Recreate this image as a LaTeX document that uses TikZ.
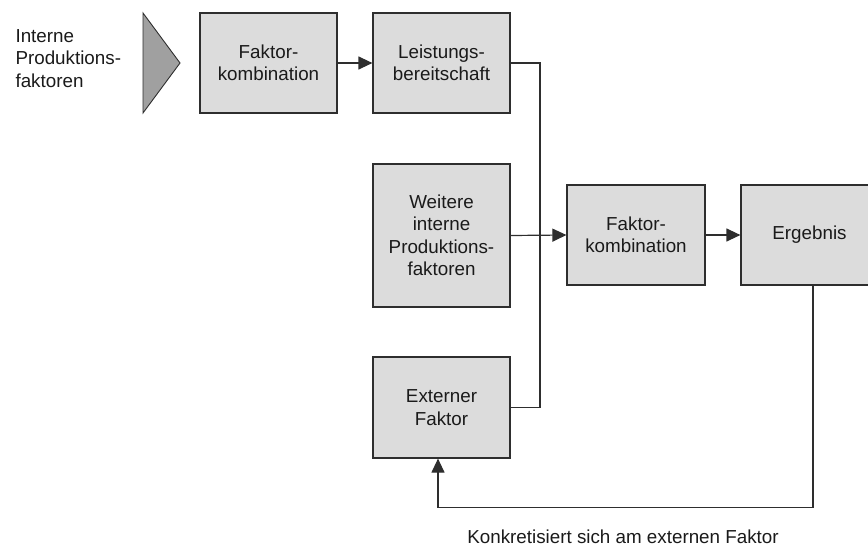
\documentclass[tikz,border=0pt]{standalone}
\usepackage{fontspec}
\setmainfont{Liberation Sans}
\usetikzlibrary{arrows.meta}
\definecolor{boxfill}{HTML}{DCDCDC}
\definecolor{wedgefill}{HTML}{A0A0A0}
\definecolor{edge}{HTML}{2E2E2E}
\definecolor{ink}{HTML}{1A1A1A}
\begin{document}
\begin{tikzpicture}[x=1pt,y=-1pt,
  every node/.style={font=\fontsize{18.8}{22.5}\selectfont, text=ink},
  block/.style={draw=edge, line width=1.2pt, fill=boxfill, align=center,
    minimum width=137pt, minimum height=100pt, inner sep=0pt},
  link/.style={draw=edge, line width=1.2pt},
  arrow/.style={link, -{Triangle[length=14pt,width=13pt]}}]
\useasboundingbox (0,0) rectangle (868,546);

% input wedge and its label
\draw[draw=edge, line width=0.9pt, fill=wedgefill] (143,13) -- (180,63) -- (143,113) -- cycle;
\node[anchor=north west, align=left] (intern) at (12,26) {Interne\\Produktions-\\faktoren};

% blocks
\node[block] (fk1) at (268.5,63) {Faktor-\\kombination};
\node[block] (lb) at (441.5,63) {Leistungs-\\bereitschaft};
\node[block, minimum height=143pt] (wf) at (441.5,235.5) {Weitere\\interne\\Produktions-\\faktoren};
\node[block, minimum width=138pt] (fk2) at (636,235) {Faktor-\\kombination};
\node[block] (erg) at (809.5,235) {Ergebnis};
\node[block, minimum height=101pt] (ext) at (441.5,407.5) {Externer\\Faktor};

\coordinate (bus) at (540,0);

% connectors
\draw[arrow] (fk1) -- (lb);
\draw[link] (lb.east) -- (lb.east -| bus) -- (ext.east -| bus) -- (ext.east);
\draw[arrow] (wf.east) -- (fk2.west);
\draw[arrow] (fk2) -- (erg);
\draw[arrow] ([xshift=3.5pt]erg.south) -- ++(0,222) -| ([xshift=-3.5pt]ext.south);

\node[anchor=base] (note) at (623,543) {Konkretisiert sich am externen Faktor};
\end{tikzpicture}
\end{document}
